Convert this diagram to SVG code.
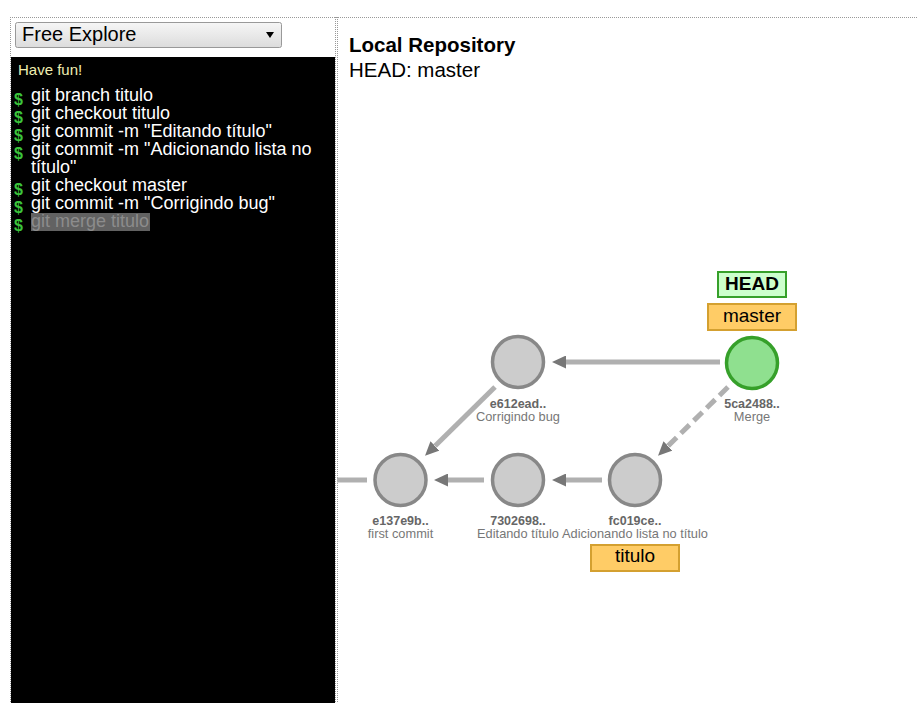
<svg xmlns="http://www.w3.org/2000/svg" width="918" height="703" viewBox="0 0 918 703">
<defs>
<linearGradient id="selg" x1="0" y1="0" x2="0" y2="1">
<stop offset="0" stop-color="#f6f6f6"/>
<stop offset="1" stop-color="#dcdcdc"/>
</linearGradient>
<marker id="arrow" markerUnits="userSpaceOnUse" markerWidth="14" markerHeight="13" refX="0" refY="6.5" orient="auto">
<path d="M0,0 L14,6.5 L0,13 z" fill="#777"/>
</marker>
</defs>
<style>
text{font-family:"Liberation Sans",Arial,sans-serif}
.dot{stroke:#999;stroke-width:1;stroke-dasharray:1 1;fill:none}
.cmd{fill:#fff;font-size:18px}
.dol{fill:#3cc43c;font-size:16px;font-weight:bold}
.edge{stroke:#b0b0b0;stroke-width:5;fill:none}
.commit{fill:#ccc;stroke:#888;stroke-width:3.5}
.hash{fill:#666;font-size:12.5px;font-weight:bold;text-anchor:middle}
.msg{fill:#777;font-size:12.8px;text-anchor:middle}
.branch{fill:#ffcc66;stroke:#d4a030;stroke-width:2}
.btxt{fill:#000;font-size:19px;text-anchor:middle}
</style>
<rect x="0" y="0" width="918" height="703" fill="#fff"/>
<line class="dot" x1="10" y1="17.5" x2="918" y2="17.5"/>
<line class="dot" x1="10.5" y1="17" x2="10.5" y2="703"/>
<g id="selector">
<rect x="15.5" y="22.5" width="266" height="25" rx="2" fill="url(#selg)" stroke="#999"/>
<text x="22" y="41" font-size="20" fill="#000">Free Explore</text>
<polygon points="266,32 274,32 270,38" fill="#000"/>
</g>
<g id="console">
<rect x="11" y="57" width="324" height="646" fill="#000"/>
<text x="18" y="75" font-size="15" fill="#efeeb0">Have fun!</text>
<rect x="31" y="213" width="119" height="18" fill="#626262"/>
<text class="dol" x="14" y="105">$</text>
<text class="cmd" x="31" y="101">git branch titulo</text>
<text class="dol" x="14" y="123">$</text>
<text class="cmd" x="31" y="119">git checkout titulo</text>
<text class="dol" x="14" y="141">$</text>
<text class="cmd" x="31" y="137">git commit -m "Editando título"</text>
<text class="dol" x="14" y="159">$</text>
<text class="cmd" x="31" y="155">git commit -m "Adicionando lista no</text>
<text class="cmd" x="31" y="173">título"</text>
<text class="dol" x="14" y="195">$</text>
<text class="cmd" x="31" y="191">git checkout master</text>
<text class="dol" x="14" y="213">$</text>
<text class="cmd" x="31" y="209">git commit -m "Corrigindo bug"</text>
<text class="dol" x="14" y="231">$</text>
<text class="cmd" x="31" y="227" style="fill:#8c8c8c">git merge titulo</text>
</g>
<line class="dot" x1="335.5" y1="17" x2="335.5" y2="703"/>
<line class="dot" x1="337.5" y1="17" x2="337.5" y2="703"/>
<g id="repo-title">
<text x="349" y="52" font-size="20.5" font-weight="bold" fill="#000">Local Repository</text>
<text x="349" y="77" font-size="20.5" fill="#000">HEAD: master</text>
</g>
<g id="connectors">
<line class="edge" x1="337" y1="480" x2="367" y2="480"/>
<line class="edge" x1="720" y1="362" x2="566" y2="362" marker-end="url(#arrow)"/>
<line class="edge" x1="484" y1="480" x2="448" y2="480" marker-end="url(#arrow)"/>
<line class="edge" x1="602" y1="480" x2="566" y2="480" marker-end="url(#arrow)"/>
<line class="edge" x1="495" y1="387" x2="435" y2="446" marker-end="url(#arrow)"/>
<line class="edge" x1="728" y1="387" x2="668" y2="446" stroke-dasharray="12 6" marker-end="url(#arrow)"/>
</g>
<g id="e137e9b">
<circle class="commit" cx="400.5" cy="480" r="25.5"/>
<text class="hash" x="400.5" y="525">e137e9b..</text>
<text class="msg" x="400.5" y="537.5">first commit</text>
</g>
<g id="n7302698">
<circle class="commit" cx="518" cy="480" r="25.5"/>
<text class="hash" x="518" y="525">7302698..</text>
<text class="msg" x="518" y="537.5">Editando título</text>
</g>
<g id="fc019ce">
<circle class="commit" cx="635" cy="480" r="25.5"/>
<text class="hash" x="635" y="525">fc019ce..</text>
<text class="msg" x="635" y="537.5">Adicionando lista no título</text>
</g>
<g id="e612ead">
<circle class="commit" cx="518" cy="362" r="25.5"/>
<text class="hash" x="518" y="408">e612ead..</text>
<text class="msg" x="518" y="420.5">Corrigindo bug</text>
</g>
<g id="n5ca2488">
<circle cx="752" cy="363" r="25.5" fill="#8fe08f" stroke="#36a02a" stroke-width="3.5"/>
<text class="hash" x="752" y="408">5ca2488..</text>
<text class="msg" x="752" y="420.5">Merge</text>
</g>
<g id="head-label">
<rect x="718" y="272" width="68" height="25" fill="#ccffcc" stroke="#36a02a" stroke-width="2"/>
<text class="btxt" x="752" y="290" font-weight="bold">HEAD</text>
</g>
<g id="master-label">
<rect x="708" y="304" width="88" height="26" class="branch"/>
<text class="btxt" x="752" y="322">master</text>
</g>
<g id="titulo-label">
<rect x="591" y="545" width="88" height="26" class="branch"/>
<text class="btxt" x="635" y="562">titulo</text>
</g>
</svg>
